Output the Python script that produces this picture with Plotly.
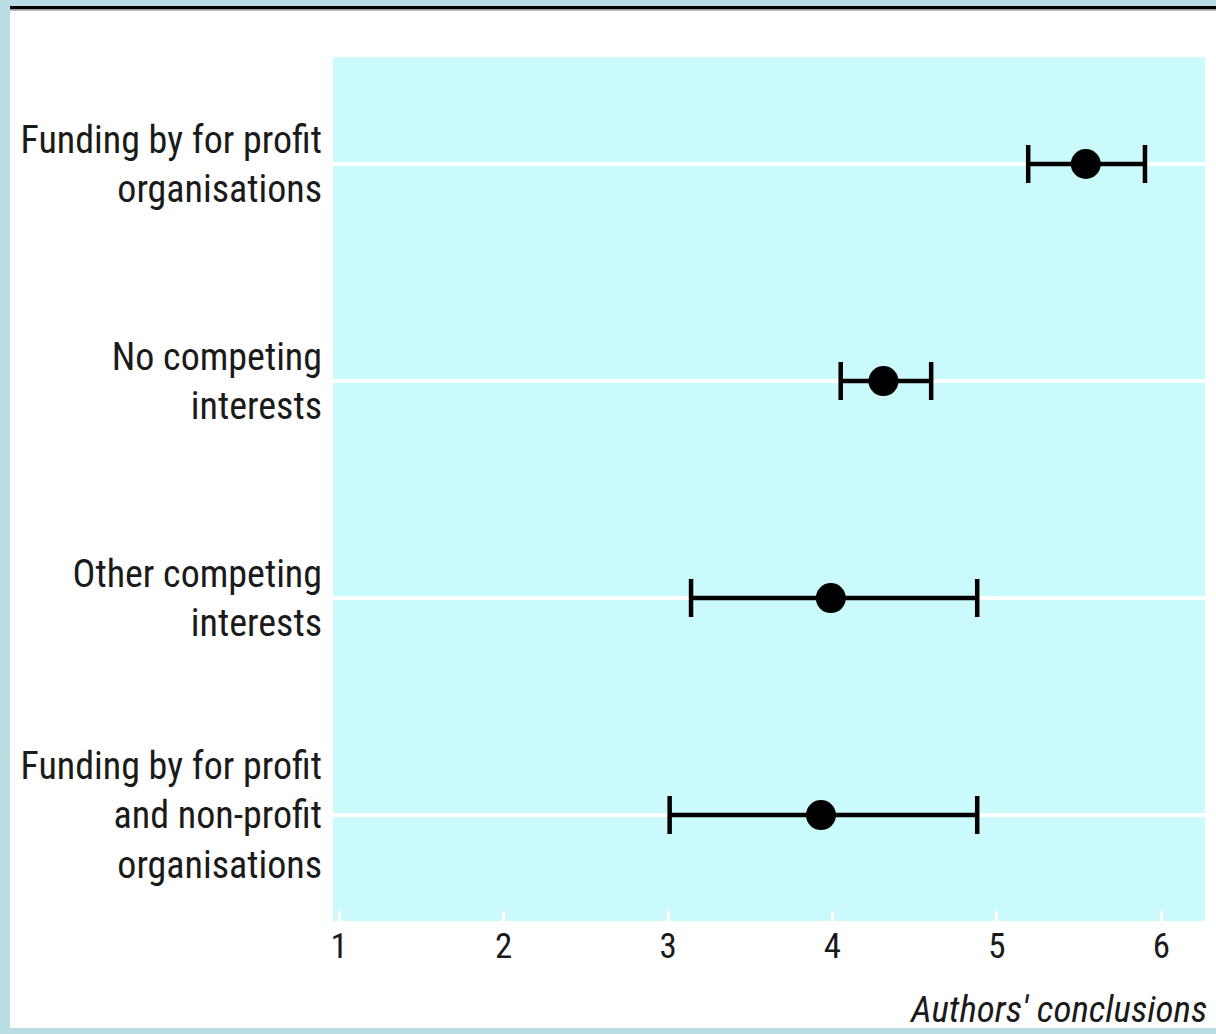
import plotly.graph_objects as go

categories = ["Funding by for profit<br>organisations",
              "No competing<br>interests",
              "Other competing<br>interests",
              "Funding by for profit<br>and non-profit<br>organisations"]
row_pos = [4, 3, 2, 1]
means = [5.54, 4.31, 3.99, 3.93]
lower = [5.19, 4.05, 3.14, 3.01]
upper = [5.90, 4.60, 4.88, 4.88]
x_ticks = [1, 2, 3, 4, 5, 6]
x_title = "Authors' conclusions"

W, H = 1216, 1034
ML, MR, MT, MB = 333, 11, 57, 113
PW, PH = W - ML - MR, H - MT - MB

FONT = "Liberation Sans Narrow, Arial Narrow, Roboto Condensed, DejaVu Sans Condensed, sans-serif"
BORDER = "#b8dde3"
PLOTBG = "#cbfafc"

def px_x(p):
    return (p - ML) / PW

def px_y(p):
    return 1 - (p - MT) / PH

fig = go.Figure()
fig.add_trace(go.Scatter(
    x=means, y=row_pos, mode="markers",
    marker=dict(color="black", size=30),
    error_x=dict(type="data", symmetric=False,
                 array=[u - m for u, m in zip(upper, means)],
                 arrayminus=[m - l for m, l in zip(means, lower)],
                 color="black", thickness=4.5, width=19),
    showlegend=False, hoverinfo="skip"))

shapes = [
    dict(type="rect", xref="paper", yref="paper", x0=px_x(0), x1=px_x(10), y0=px_y(0), y1=px_y(H),
         fillcolor=BORDER, line_width=0, layer="below"),
    dict(type="rect", xref="paper", yref="paper", x0=px_x(0), x1=px_x(W), y0=px_y(0), y1=px_y(6),
         fillcolor=BORDER, line_width=0, layer="below"),
    dict(type="rect", xref="paper", yref="paper", x0=px_x(10), x1=px_x(W), y0=px_y(6), y1=px_y(9.5),
         fillcolor="black", line_width=0, layer="below"),
    dict(type="rect", xref="paper", yref="paper", x0=px_x(10), x1=px_x(W), y0=px_y(9.5), y1=px_y(11),
         fillcolor="#bbbbbb", line_width=0, layer="below"),
    dict(type="rect", xref="paper", yref="paper", x0=px_x(0), x1=px_x(W), y0=px_y(1028), y1=px_y(H),
         fillcolor=BORDER, line_width=0, layer="below"),
]

fig.update_layout(
    width=W, height=H,
    margin=dict(l=ML, r=MR, t=MT, b=MB, pad=0),
    paper_bgcolor="white", plot_bgcolor=PLOTBG,
    font=dict(family=FONT, color="#1a1a1a", size=38),
    shapes=shapes,
    xaxis=dict(range=[0.963, 6.265], tickvals=x_ticks, ticktext=[str(v) for v in x_ticks],
               showgrid=False, zeroline=False, showline=False,
               ticks="inside", ticklen=10, tickwidth=3, tickcolor="white",
               tickfont=dict(size=35, family=FONT), ticklabelstandoff=1),
    yaxis=dict(range=[0.512, 4.493], tickvals=row_pos, ticktext=categories,
               showgrid=True, gridcolor="white", gridwidth=4, zeroline=False, showline=False,
               ticks="", tickfont=dict(size=38, family=FONT), ticklabelstandoff=10),
    annotations=[dict(text="<i>" + x_title + "</i>", xref="paper", yref="paper",
                      x=px_x(1209), y=px_y(1009), xanchor="right", yanchor="middle",
                      showarrow=False, font=dict(size=37, family=FONT))],
)

fig.write_html("out.html")
